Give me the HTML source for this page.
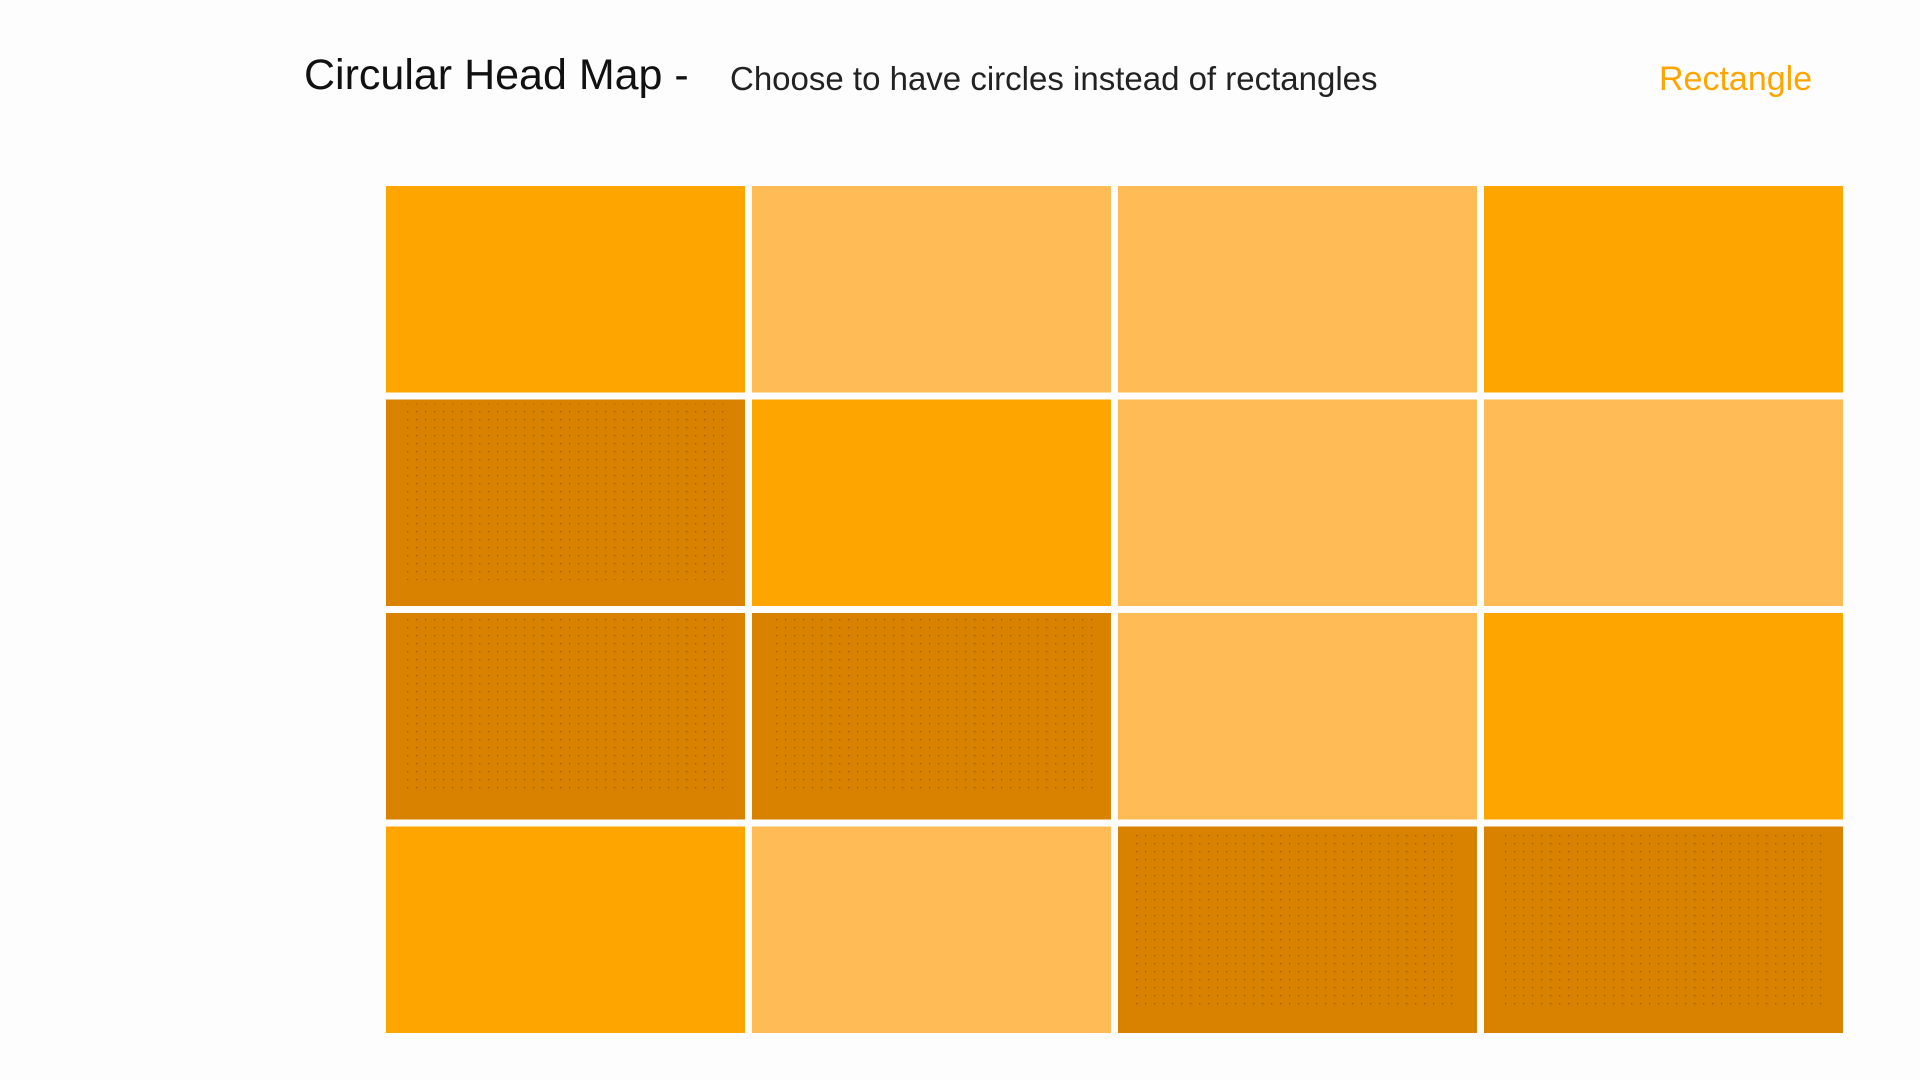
<!DOCTYPE html>
<html><head><meta charset="utf-8"><style>
html,body{margin:0;padding:0;width:1920px;height:1080px;background:#fdfdfd;overflow:hidden;font-family:"Liberation Sans",sans-serif;}
.t{position:absolute;white-space:nowrap;line-height:1;}
</style></head><body>
<div class="t" style="left:304px;top:54px;font-size:43px;color:#111;">Circular Head Map -</div>
<div class="t" style="left:730px;top:62px;font-size:33px;color:#222;">Choose to have circles instead of rectangles</div>
<div class="t" style="left:1659px;top:62px;font-size:34px;color:#FFA500;">Rectangle</div>
<svg id="chart" width="1920" height="1080" style="position:absolute;left:0;top:0">
<defs><pattern id="dots" width="9" height="8" patternUnits="userSpaceOnUse"><rect x="2" y="3" width="1.3" height="1.3" fill="#5a3a00"/></pattern></defs>
</svg>
<script>
const rows = ['r1','r2','r3','r4'];
const cols = ['c1','c2','c3','c4'];
const values = [
 [2,1,1,2],
 [3,2,1,1],
 [3,3,1,2],
 [2,1,3,3]
];
const svg = document.getElementById('chart');
const NS = 'http://www.w3.org/2000/svg';
const x0 = 386, x1 = 1850, y0 = 186, y1 = 1040, gap = 7;
const cw = (x1 - x0) / cols.length, rh = (y1 - y0) / rows.length;
function xScale(i){ return x0 + i * cw; }
function yScale(j){ return y0 + j * rh; }
function color(v){ return v >= 3 ? '#D88200' : v >= 2 ? '#FFA500' : '#FFBB55'; }
values.forEach((row, j) => row.forEach((v, i) => {
  const r = document.createElementNS(NS, 'rect');
  r.setAttribute('x', xScale(i)); r.setAttribute('y', yScale(j));
  r.setAttribute('width', cw - gap); r.setAttribute('height', rh - gap);
  r.setAttribute('fill', color(v));
  
  
  svg.appendChild(r);
  if (v >= 3) {
    const p = document.createElementNS(NS, 'rect');
    p.setAttribute('x', xScale(i) + 18); p.setAttribute('y', yScale(j) + 4);
    p.setAttribute('width', cw - gap - 36); p.setAttribute('height', rh - gap - 30);
    p.setAttribute('fill', 'url(#dots)'); p.setAttribute('opacity', '0.5');
    
    
    svg.appendChild(p);
  }
}));
</script>
</body></html>
